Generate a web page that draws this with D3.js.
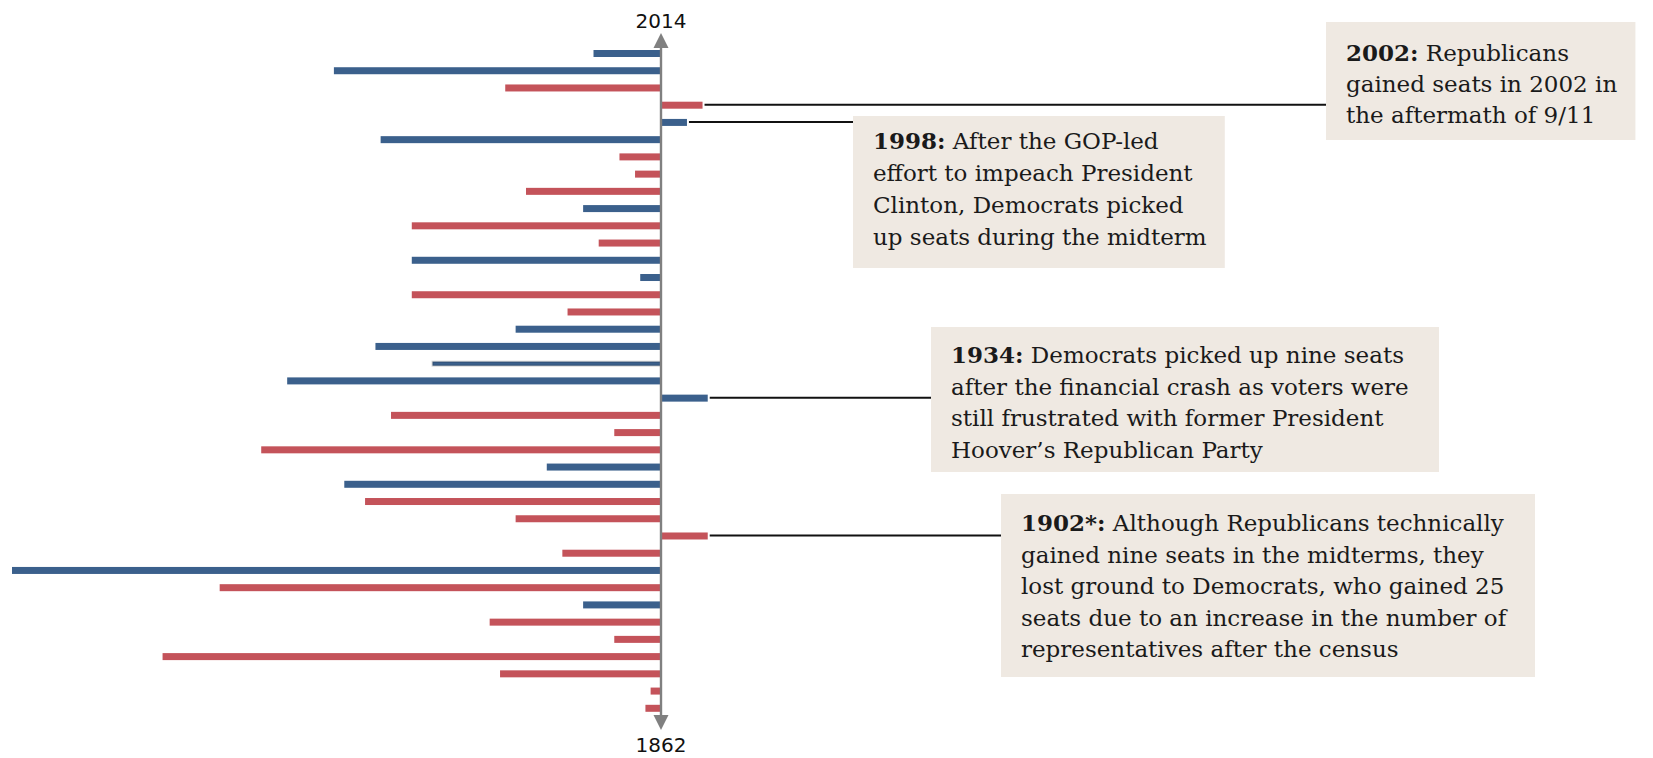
<!DOCTYPE html>
<html>
<head>
<meta charset="utf-8">
<script src="https://cdn.jsdelivr.net/npm/d3@7"></script>
<style>
  html, body { margin: 0; padding: 0; background: #fff; }
  svg { display: block; }
</style>
</head>
<body>
<svg id="chart" width="1653" height="758"></svg>
<script>
// Midterm election years (top = most recent)
const years = [2014, 2010, 2006, 2002, 1998, 1994, 1990, 1986, 1982, 1978, 1974, 1970, 1966, 1962, 1958, 1954, 1950, 1946, 1942, 1938, 1934, 1930, 1926, 1922, 1918, 1914, 1910, 1906, 1902, 1898, 1894, 1890, 1886, 1882, 1878, 1874, 1870, 1866, 1862];
// Seat change of the president's party
const seatChange = [-13, -63, -30, 8, 5, -54, -8, -5, -26, -15, -48, -12, -48, -4, -48, -18, -28, -55, -44, -72, 9, -52, -9, -77, -22, -61, -57, -28, 9, -19, -125, -85, -15, -33, -9, -96, -31, -2, -3];
// President's party: D = Democrat, R = Republican
const party = ["D", "D", "R", "R", "D", "D", "R", "R", "R", "D", "R", "R", "D", "D", "R", "R", "D", "D", "D", "D", "D", "R", "R", "R", "D", "D", "R", "R", "R", "R", "D", "R", "D", "R", "R", "R", "R", "R", "R"];
const highlighted = [1942];
const axisLabels = ["2014", "1862"];

const annotations = [
  { year: 2002, bold: "2002:", lines: ["Republicans", "gained seats in 2002 in", "the aftermath of 9/11"] },
  { year: 1998, bold: "1998:", lines: ["After the GOP-led", "effort to impeach President", "Clinton, Democrats picked", "up seats during the midterm"] },
  { year: 1934, bold: "1934:", lines: ["Democrats picked up nine seats", "after the financial crash as voters were", "still frustrated with former President", "Hoover\u2019s Republican Party"] },
  { year: 1902, bold: "1902*:", lines: ["Although Republicans technically", "gained nine seats in the midterms, they", "lost ground to Democrats, who gained 25", "seats due to an increase in the number of", "representatives after the census"] }
];
// Box layout (positions only)
const boxLayout = {
  2002: { x: 1326, y: 22, w: 308, h: 118, base: 61, step: 31 },
  1998: { x: 853, y: 116, w: 288, h: 152, base: 149, step: 32 },
  1934: { x: 931, y: 327, w: 508, h: 145, base: 363, step: 31.7 },
  1902: { x: 1001, y: 494, w: 534, h: 183, base: 531, step: 31.6 }
};

const colors = { D: "#3b608c", R: "#c4535a" };
const data = years.map((y, i) => ({ year: y, value: seatChange[i], party: party[i] }));

const svg = d3.select("#chart");
const x = d3.scaleLinear().domain([-125, 0]).range([12, 661]);
const y = d3.scalePoint().domain(years).range([53.5, 708.3]);
const barH = 7;

// bars
svg.append("g").selectAll("rect")
  .data(data)
  .join("rect")
  .attr("x", d => Math.min(x(d.value), x(0)))
  .attr("width", d => Math.abs(x(d.value) - x(0)))
  .attr("y", d => highlighted.includes(d.year) ? y(d.year) - 2 : y(d.year) - barH / 2)
  .attr("height", d => highlighted.includes(d.year) ? 4 : barH)
  .attr("fill", d => colors[d.party])
  .attr("stroke", d => highlighted.includes(d.year) ? "rgba(0,0,0,0.16)" : "none")
  .attr("stroke-width", 2);

// connector lines
const byYear = new Map(data.map(d => [d.year, d]));
svg.append("g").selectAll("line")
  .data(annotations)
  .join("line")
  .attr("x1", d => x(byYear.get(d.year).value) + 2)
  .attr("x2", d => boxLayout[d.year].x)
  .attr("y1", d => y(d.year) - 0.5)
  .attr("y2", d => y(d.year) - 0.5)
  .attr("stroke", "#111")
  .attr("stroke-width", 2);

// axis line with arrows
const axisG = svg.append("g");
axisG.append("line")
  .attr("x1", x(0)).attr("x2", x(0))
  .attr("y1", 46).attr("y2", 717)
  .attr("stroke", "#808080").attr("stroke-width", 2.4);
axisG.append("path")
  .attr("d", `M${x(0)},33 L${x(0) + 7.5},48 L${x(0) - 7.5},48 Z`)
  .attr("fill", "#808080");
axisG.append("path")
  .attr("d", `M${x(0)},730 L${x(0) + 7.5},715 L${x(0) - 7.5},715 Z`)
  .attr("fill", "#808080");
axisG.append("text")
  .attr("x", x(0)).attr("y", 28)
  .attr("text-anchor", "middle")
  .attr("font-family", "DejaVu Sans")
  .attr("font-size", 20)
  .attr("fill", "#111")
  .text(axisLabels[0]);
axisG.append("text")
  .attr("x", x(0)).attr("y", 752)
  .attr("text-anchor", "middle")
  .attr("font-family", "DejaVu Sans")
  .attr("font-size", 20)
  .attr("fill", "#111")
  .text(axisLabels[1]);

// annotation boxes
const ann = svg.append("g");
const fontSize = 23;
annotations.forEach(a => {
  const b = boxLayout[a.year];
  const rect = ann.append("rect")
    .attr("x", b.x).attr("y", b.y).attr("height", b.h)
    .attr("fill", "#efe9e2");
  const t = ann.append("text")
    .attr("font-family", "DejaVu Serif")
    .attr("font-size", fontSize)
    .attr("fill", "#1a1a1a");
  a.lines.forEach((ln, i) => {
    if (i === 0) {
      const first = t.append("tspan").attr("x", b.x + 20).attr("y", b.base);
      first.append("tspan").attr("font-weight", "bold").text(a.bold);
      first.append("tspan").text(" " + ln);
    } else {
      t.append("tspan").attr("x", b.x + 20).attr("y", b.base + i * b.step).text(ln);
    }
  });
  // keep text inside its box
  const bb = t.node().getBBox();
  const w = Math.max(b.w, bb.x + bb.width + 18 - b.x);
  rect.attr("width", w);
});
</script>
</body>
</html>
